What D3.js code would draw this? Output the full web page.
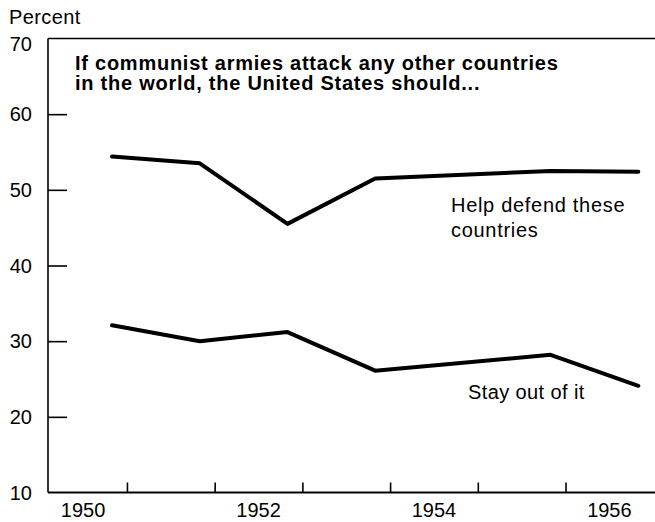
<!DOCTYPE html>
<html>
<head>
<meta charset="utf-8">
<script src="https://cdn.jsdelivr.net/npm/d3@7"></script>
<style>
  html, body { margin: 0; padding: 0; background: #fff; }
  svg { display: block; }
  text { font-family: "Liberation Sans", Arial, Helvetica, sans-serif; fill: #000; }
</style>
</head>
<body>
<svg id="chart" width="655" height="522"></svg>
<script>
// ---- Data ----
const pollYears = [1950, 1951, 1952, 1953, 1955, 1956];
const pollFraction = 0.83; // polls fielded late in each year
const helpDefend = [54.4, 53.5, 45.5, 51.5, 52.5, 52.4];
const stayOut = [32.1, 30.0, 31.2, 26.1, 28.2, 24.1];
const yTickValues = [10, 20, 30, 40, 50, 60, 70];
const xTickYears = [1951, 1952, 1953, 1954, 1955, 1956];
const xLabelYears = [1950, 1952, 1954, 1956];
const titleLines = ["If communist armies attack any other countries", "in the world, the United States should..."];
const helpLabel = ["Help defend these", "countries"];
const stayLabel = ["Stay out of it"];
const yAxisTitle = "Percent";

// ---- Layout ----
const svg = d3.select("#chart");
const mLeft = 48, mRight = 655, mTop = 38.5, mBottom = 492.5;

const x = d3.scaleLinear().domain([1950.1, 1957.02]).range([mLeft, mRight]);
const y = d3.scaleLinear().domain([10, 70]).range([mBottom, mTop]);

svg.append("rect").attr("width", 655).attr("height", 522).attr("fill", "#fff");

// Frame: left axis, top border, bottom axis
svg.append("line").attr("x1", mLeft).attr("x2", mLeft).attr("y1", mTop).attr("y2", mBottom)
  .attr("stroke", "#000").attr("stroke-width", 1.6);
svg.append("line").attr("x1", mLeft).attr("x2", mRight).attr("y1", mTop).attr("y2", mTop)
  .attr("stroke", "#000").attr("stroke-width", 1.4);
svg.append("line").attr("x1", mLeft).attr("x2", mRight).attr("y1", mBottom).attr("y2", mBottom)
  .attr("stroke", "#000").attr("stroke-width", 1.8);

// Y ticks (inward) and labels
const yAxis = d3.axisRight(y).tickValues(yTickValues.filter(v => v > 10 && v < 70))
  .tickSize(19).tickFormat("");
const yg = svg.append("g").attr("transform", `translate(${mLeft},0)`).call(yAxis);
yg.select(".domain").remove();
yg.selectAll(".tick line").attr("stroke", "#000").attr("stroke-width", 1.6);

svg.append("g").selectAll("text").data(yTickValues).join("text")
  .attr("x", 32)
  .attr("y", d => y(d) + (d === 70 ? 5.5 : 0))
  .attr("dy", "0.36em")
  .attr("text-anchor", "end")
  .attr("font-size", 20)
  .text(d => d);

// X ticks (upward at year boundaries)
const xAxis = d3.axisTop(x).tickValues(xTickYears).tickSize(10).tickFormat("");
const xg = svg.append("g").attr("transform", `translate(0,${mBottom})`).call(xAxis);
xg.select(".domain").remove();
xg.selectAll(".tick line").attr("stroke", "#000").attr("stroke-width", 1.6);

// X labels centred within year
svg.append("g").selectAll("text").data(xLabelYears).join("text")
  .attr("x", d => x(d + 0.5))
  .attr("y", 516.5)
  .attr("text-anchor", "middle")
  .attr("font-size", 20)
  .text(d => d);

// Axis title
svg.append("text").attr("x", 9).attr("y", 24).attr("font-size", 20)
  .attr("letter-spacing", "0.4px").text(yAxisTitle);

// Chart title
svg.append("g").selectAll("text").data(titleLines).join("text")
  .attr("x", 75)
  .attr("y", (d, i) => 69.5 + i * 20)
  .attr("font-size", 20)
  .attr("font-weight", "bold")
  .attr("letter-spacing", "0.75px")
  .text(d => d);

// Lines
const line = d3.line()
  .x((d, i) => x(pollYears[i] + pollFraction))
  .y(d => y(d));

[helpDefend, stayOut].forEach(series => {
  svg.append("path")
    .datum(series)
    .attr("d", line)
    .attr("fill", "none")
    .attr("stroke", "#000")
    .attr("stroke-width", 4)
    .attr("stroke-linejoin", "round")
    .attr("stroke-linecap", "round");
});

// Series labels
svg.append("g").selectAll("text").data(helpLabel).join("text")
  .attr("x", 451)
  .attr("y", (d, i) => 212 + i * 24.5)
  .attr("font-size", 20)
  .attr("letter-spacing", "0.7px")
  .text(d => d);

svg.append("g").selectAll("text").data(stayLabel).join("text")
  .attr("x", 468)
  .attr("y", 398.5)
  .attr("font-size", 20)
  .attr("letter-spacing", "0.4px")
  .text(d => d);
</script>
</body>
</html>
